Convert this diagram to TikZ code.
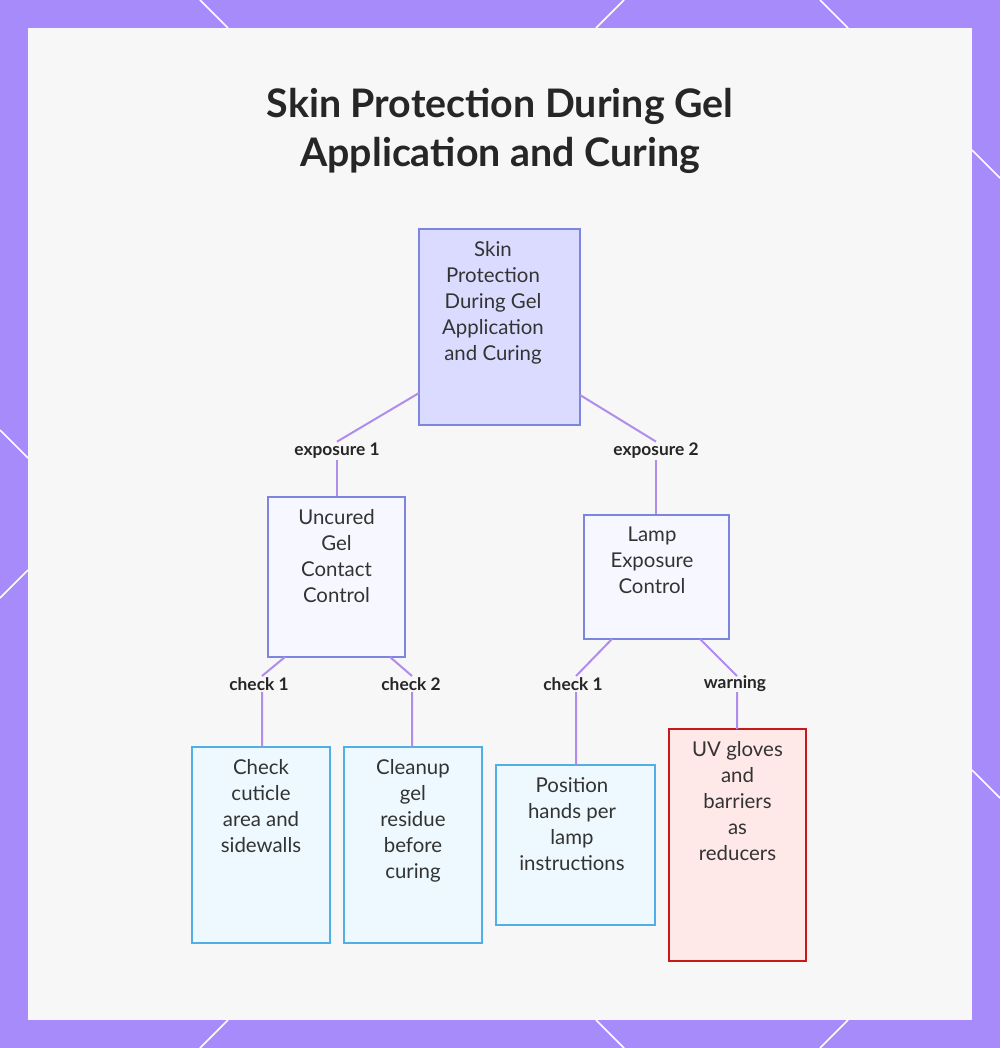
\documentclass[tikz,border=0pt]{standalone}
\usepackage{fontspec}
\setmainfont{Lato}
\begin{document}
\begin{tikzpicture}[x=0.75pt,y=-0.75pt,
 box/.style={draw,line width=1.5pt,inner sep=0pt},
 txt/.style={anchor=north,align=center,text=black!80,font=\fontsize{15.3}{19.5}\selectfont,inner sep=0pt},
 lab/.style={font=\bfseries\fontsize{13}{14}\selectfont,text=black!85,inner sep=1pt},
 con/.style={draw=con,line width=1.5pt}]
\definecolor{frame}{HTML}{A78BFA}
\definecolor{panel}{HTML}{F7F7F8}
\definecolor{con}{HTML}{B08CEB}
\definecolor{bb}{HTML}{7C86DE}
\useasboundingbox (0,0) rectangle (1000,1048);
\fill[frame] (0,0) rectangle (1000,1048);
\fill[panel] (28,28) rectangle (972,1020);
\foreach \a/\b/\c/\d in {200/0/228/28, 596/28/624/0, 820/0/848/28, 972/150/1000/178, 0/430/28/458, 0/598/28/570, 972/770/1000/798, 200/1048/228/1020, 596/1020/624/1048, 820/1048/848/1020}
 \draw[white,line width=1.2pt] (\a,\b)--(\c,\d);
\node[font=\bfseries\fontsize{29.5}{37}\selectfont,text=black!85,align=center] (title) at (500,131) {Skin Protection During Gel\\Application and Curing};
% boxes
\node[box,draw=bb,fill=blue!14,minimum width=120.75pt,minimum height=147pt] (root) at (499.5,327) {};
\node[txt] at (493,241) {Skin\\Protection\\During Gel\\Application\\and Curing};
\node[box,draw=bb,fill=blue!3,minimum width=102.75pt,minimum height=120pt] (u) at (336.5,577) {};
\node[txt] at (336.5,509) {Uncured\\Gel\\Contact\\Control};
\node[box,draw=bb,fill=blue!3,minimum width=108.75pt,minimum height=93pt] (l) at (656.5,577) {};
\node[txt] at (652,527) {Lamp\\Exposure\\Control};
\node[box,draw=cyan!80!blue!70,fill=cyan!7,minimum width=103.5pt,minimum height=147pt] (c1) at (261,845) {};
\node[txt] at (261,759) {Check\\cuticle\\area and\\sidewalls};
\node[box,draw=cyan!80!blue!70,fill=cyan!7,minimum width=103.5pt,minimum height=147pt] (c2) at (413,845) {};
\node[txt] at (413,759) {Cleanup\\gel\\residue\\before\\curing};
\node[box,draw=cyan!80!blue!70,fill=cyan!7,minimum width=119.25pt,minimum height=120pt] (p) at (575.5,845) {};
\node[txt] at (572,777) {Position\\hands per\\lamp\\instructions};
\node[box,draw=red!75!black!90,fill=red!9,minimum width=102.75pt,minimum height=174pt] (w) at (737.5,845) {};
\node[txt] at (737.5,741) {UV gloves\\and\\barriers\\as\\reducers};
% labels
\node[lab] (e1) at (337,451) {exposure 1};
\node[lab] (e2) at (656,451) {exposure 2};
\node[lab] (k1) at (259,684) {check 1};
\node[lab] (k2) at (411,684) {check 2};
\node[lab] (k3) at (573,684) {check 1};
\node[lab] (k4) at (735,684) {warning};
\coordinate (r1) at (419,393); \coordinate (r2) at (580,395);
\draw[con] (r1)--(e1.north); \draw[con] (e1.south)--(e1.south|-u.north);
\draw[con] (r2)--(e2.north); \draw[con] (e2.south)--(e2.south|-l.north);
\coordinate (u1) at (285,657); \coordinate (u2) at (390,657);
\coordinate (l1) at (612,639); \coordinate (l2) at (700,639);
\draw[con] (u1)--(262,676) (262,692)--(262,747);
\draw[con] (u2)--(412,676) (412,692)--(412,747);
\draw[con] (l1)--(576,676) (576,692)--(576,765);
\draw[con] (l2)--(737,676) (737,692)--(737,729);
\end{tikzpicture}
\end{document}
